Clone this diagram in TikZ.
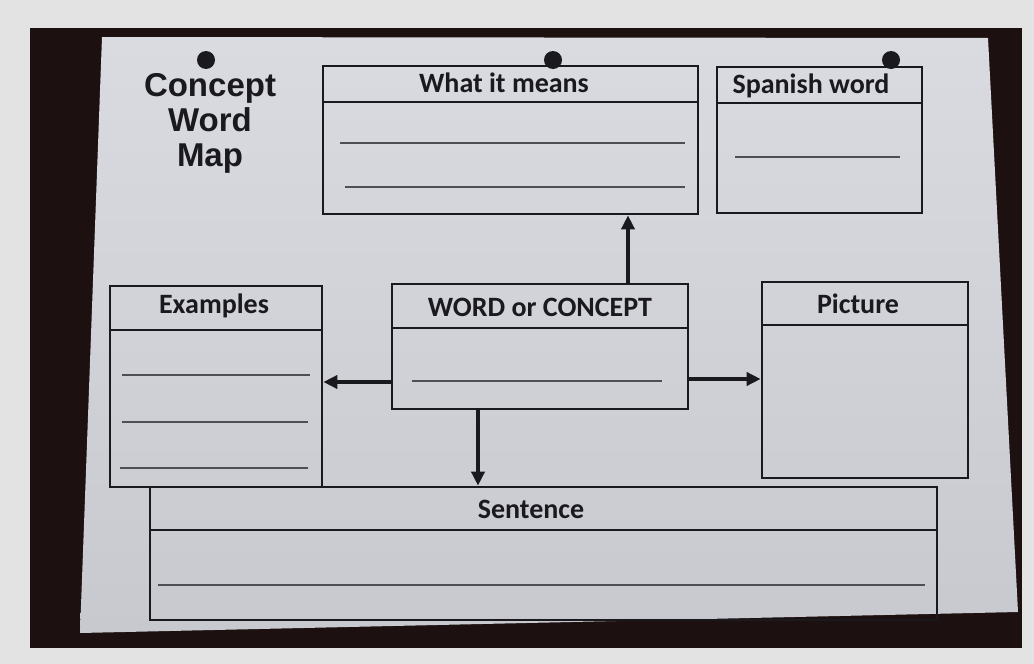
\documentclass[tikz,border=0pt]{standalone}
\usepackage{fontspec}
\setmainfont{Carlito}
\newfontfamily\titlefont{Liberation Sans}
\usetikzlibrary{arrows.meta}
\definecolor{frame}{HTML}{E3E3E3}
\definecolor{darkbg}{HTML}{1C1010}
\definecolor{papertop}{HTML}{DADBE0}
\definecolor{paperbot}{HTML}{C8C9CF}
\definecolor{ink}{HTML}{1A1A1E}
\definecolor{rule}{HTML}{4E4F55}
\tikzset{
  box/.style={draw=ink, line width=2.6pt, inner sep=0pt, rectangle},
  hdr/.style={text=ink, font=\bfseries\fontsize{28}{30}\selectfont, inner sep=0pt},
  wline/.style={draw=rule, line width=1.4pt},
  hline/.style={draw=ink, line width=2.6pt},
  arr/.style={draw=ink, line width=3.6pt, -{Triangle[length=14pt,width=13pt]}},
  pin/.style={fill=ink, circle, minimum size=18pt, inner sep=0pt}
}
\begin{document}
\begin{tikzpicture}[x=1pt,y=-1pt]
\useasboundingbox (0,0) rectangle (1034,664);
\fill[frame] (0,0) rectangle (1034,664);
\fill[darkbg] (30,28) rectangle (1022,648);
\shade[top color=papertop, bottom color=paperbot] (102,37) -- (988,38) -- (1018,612) -- (80,633) -- cycle;

% pins
\node[pin] (p1) at (206,60) {};
\node[pin] (p2) at (553,60) {};
\node[pin] (p3) at (891,60) {};

% title
\node[text=ink, font=\titlefont\bfseries\fontsize{33}{35}\selectfont, align=center, inner sep=0pt] (title) at (210,123) {Concept\\Word\\Map};

% What it means
\node[box, minimum width=375pt, minimum height=148pt] (mean) at (510.5,140) {};
\draw[hline] (323,102) -- (698,102);
\node[hdr] (meanT) at (504,83) {What it means};
\draw[wline] (340,143) -- (685,143);
\draw[wline] (345,187) -- (685,187);

% Spanish word
\node[box, minimum width=205pt, minimum height=146pt] (span) at (819.5,140) {};
\draw[hline] (717,103) -- (922,103);
\node[hdr] (spanT) at (811,86) {Spanish word};
\draw[wline] (735,157) -- (900,157);

% Examples
\node[box, minimum width=212pt, minimum height=201pt] (ex) at (216,386.5) {};
\draw[hline] (110,330) -- (322,330);
\node[hdr] (exT) at (214,306) {Examples};
\draw[wline] (122,375) -- (310,375);
\draw[wline] (122,422) -- (308,422);
\draw[wline] (120,468) -- (308,468);

% WORD or CONCEPT
\node[box, minimum width=296pt, minimum height=125pt] (wc) at (540,346.5) {};
\draw[hline] (392,328) -- (688,328);
\node[hdr] (wcT) at (540,307) {WORD or CONCEPT};
\draw[wline] (412,381) -- (662,381);

% Picture
\node[box, minimum width=206pt, minimum height=196pt] (pic) at (865,380) {};
\draw[hline] (762,325) -- (968,325);
\node[hdr] (picT) at (858,304) {Picture};

% Sentence
\node[box, minimum width=787pt, minimum height=133pt] (sent) at (543.5,553.5) {};
\draw[hline] (150,530) -- (937,530);
\node[hdr] (sentT) at (531,509) {Sentence};
\draw[wline] (158,585) -- (925,585);

% arrows
\draw[arr] (wc.north -| 628,0) -- (mean.south -| 628,0);
\draw[arr] (wc.west |- 0,382) -- (ex.east |- 0,382);
\draw[arr] (wc.east |- 0,379) -- (pic.west |- 0,379);
\draw[arr] (wc.south -| 478,0) -- (sent.north -| 478,0);
\end{tikzpicture}
\end{document}
